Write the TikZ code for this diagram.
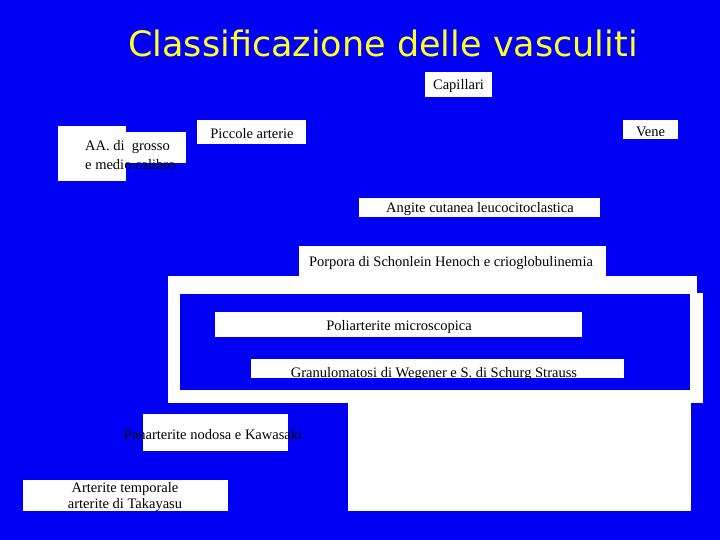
\documentclass[tikz,border=0pt]{standalone}
\usepackage{fontspec}
\setmainfont{Liberation Serif}
\newfontfamily\titlefont{DejaVu Sans}
\usetikzlibrary{positioning}
\definecolor{slideblue}{RGB}{0,0,245}
\definecolor{titleyellow}{RGB}{255,255,40}

\begin{document}
\begin{tikzpicture}[
    x=1pt, y=-1pt,
    font=\fontsize{14.5}{16}\selectfont,
    wbox/.style={fill=white, draw=none, inner sep=0pt, minimum width=#1},
    lbl/.style={inner sep=0pt, text=black, align=center, yshift=-2pt},
    ttl/.style={inner sep=0pt, text=titleyellow, font=\titlefont\fontsize{35}{40}\selectfont}
]
\useasboundingbox (0,0) rectangle (720,540);
\fill[slideblue] (0,0) rectangle (720,540);

\node[ttl, anchor=base] (title) at (383,57) {Classificazione delle vasculiti};

\node[wbox=67pt, minimum height=25pt] (capbox) at (458.5,84.5) {};
\node[lbl] (cap) at (capbox.center) {Capillari};
\node[wbox=55pt, minimum height=19pt] (venebox) at (650.5,129.5) {};
\node[lbl] (vene) at (venebox.center) {Vene};
\node[wbox=109pt, minimum height=24pt] (piccbox) at (251.5,132) {};
\node[lbl] (picc) at (252,132) {Piccole arterie};

\node[wbox=68pt, minimum height=55pt] (aabox) at (92,153.5) {};
\node[wbox=60pt, minimum height=31pt] (aabox2) at (156,147.5) {};
\node[lbl, align=left, anchor=west, font=\fontsize{14.5}{19}\selectfont] (aa) at (85,153.5) {AA. di~ grosso\\e medio calibro};

\node[wbox=241pt, minimum height=19pt] (angbox) at (479.5,207.5) {};
\node[lbl] (ang) at (480,207) {Angite cutanea leucocitoclastica};

\node[wbox=307pt, minimum height=31pt] (porbox) at (452.5,261.5) {};
\fill[white] (168,276) rectangle (697,403);
\fill[white] (180,293) rectangle (703,403);
\fill[slideblue] (180,294) rectangle (690,390);
\fill[white] (348,403) rectangle (691,511);
\node[lbl] (por) at (451,261) {Porpora di Schonlein Henoch e crioglobulinemia};

\node[wbox=367pt, minimum height=25pt] (polibox) at (398.5,324.5) {};
\node[lbl] (poli) at (399,325) {Poliarterite microscopica};
\node[wbox=373pt, minimum height=19pt] (granbox) at (437.5,368.5) {};
\node[lbl] (gran) at (434,372) {Granulomatosi di Wegener e S. di Schurg Strauss};

\node[wbox=145pt, minimum height=37pt] (panbox) at (215.5,432.5) {};
\node[lbl] (pan) at (213,433) {Panarterite nodosa e Kawasaki};
\node[wbox=205pt, minimum height=31pt] (artbox) at (125.5,495.5) {};
\node[lbl] (art) at (125,495) {Arterite temporale\\arterite di Takayasu};
\end{tikzpicture}
\end{document}
